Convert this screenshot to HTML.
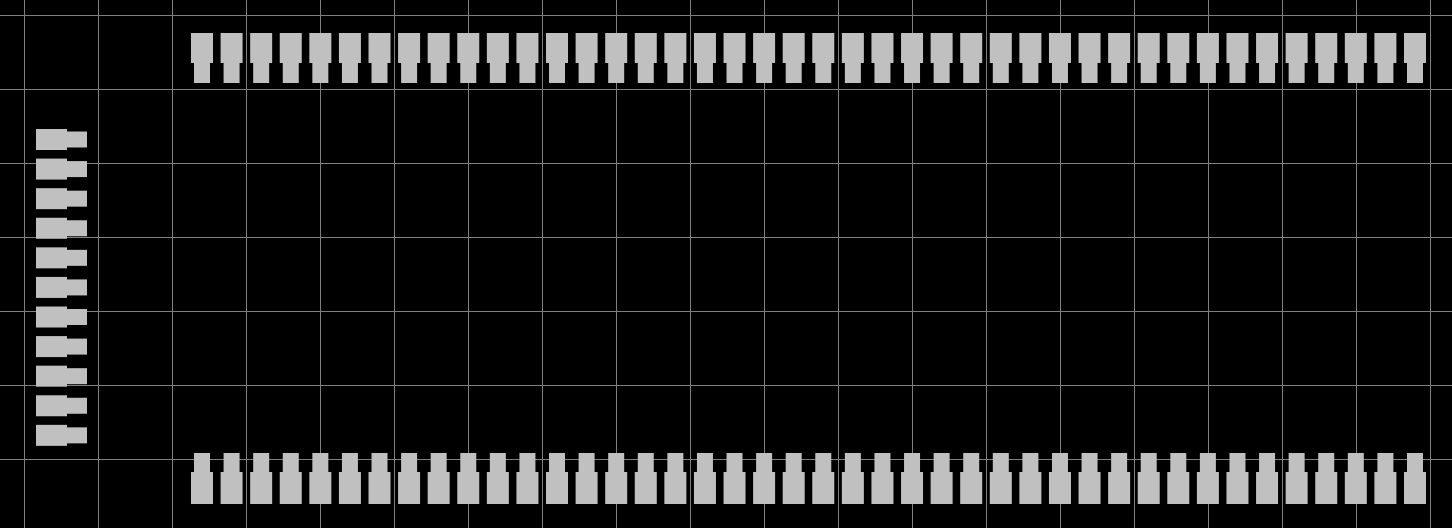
<!DOCTYPE html>
<html><head><meta charset="utf-8"><style>
html,body{margin:0;padding:0;background:#000;}
svg{display:block;}
</style></head><body>
<svg id="c" width="1452" height="528" xmlns="http://www.w3.org/2000/svg">
<rect width="1452" height="528" fill="#000"/>
<g id="grid"></g>
<g id="pads"></g>
</svg>
<script>
const gridXStart = 24, gridYStart = 15, gridStep = 74;
const topPadCount = 42, leftPadCount = 11;
const padPitch = 29.585;
const NS = 'http://www.w3.org/2000/svg';
const grid = document.getElementById('grid');
const pads = document.getElementById('pads');
function line(x1,y1,x2,y2){
  const l=document.createElementNS(NS,'line');
  l.setAttribute('x1',x1);l.setAttribute('y1',y1);l.setAttribute('x2',x2);l.setAttribute('y2',y2);
  l.setAttribute('stroke','#808080');l.setAttribute('stroke-width','1');
  
  
  grid.appendChild(l);
}
for(let x=gridXStart;x<1452;x+=gridStep) line(x+0.5,0,x+0.5,528);
for(let y=gridYStart;y<528;y+=gridStep) line(0,y+0.5,1452,y+0.5);
function rect(g,x,y,w,h){
  const r=document.createElementNS(NS,'rect');
  r.setAttribute('x',x);r.setAttribute('y',y);r.setAttribute('width',w);r.setAttribute('height',h);
  r.setAttribute('fill','#c0c0c0');
  g.appendChild(r);
}
function pad(name){
  const g=document.createElementNS(NS,'g');
  
  
  pads.appendChild(g);return g;
}
for(let i=0;i<topPadCount;i++){
  const x=191+i*padPitch;
  let g=pad('top-pad');
  rect(g,x,33,22,30);rect(g,x+3,62,16,21);
  g=pad('bottom-pad');
  rect(g,x+3,453,16,20);rect(g,x,472,22,32);
}
for(let i=0;i<leftPadCount;i++){
  const y=129+i*padPitch;
  const g=pad('left-pad');
  rect(g,36,y,31,21);rect(g,66,y+2.5,21,16);
}
</script>
</body></html>
